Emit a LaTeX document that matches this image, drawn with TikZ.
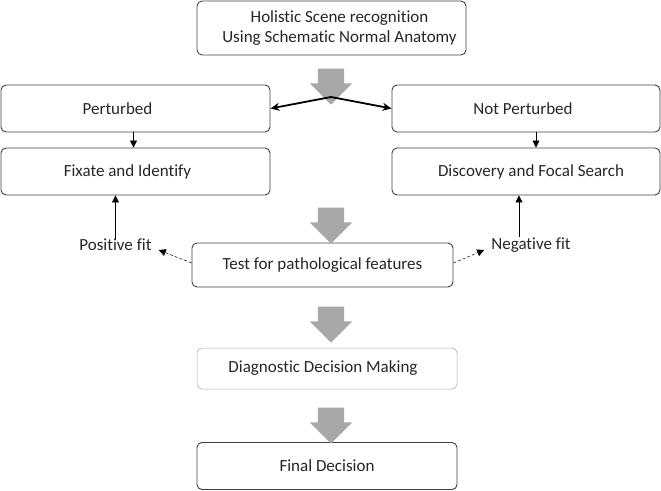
\documentclass[tikz,border=0pt]{standalone}
\usepackage{fontspec}
\setmainfont{Carlito}[Ligatures=NoCommon]
\usetikzlibrary{shapes.arrows,arrows.meta}

\definecolor{boxline}{RGB}{64,64,64}
\definecolor{arrgray}{RGB}{168,168,168}
\definecolor{txt}{RGB}{38,38,38}

\tikzset{
  box/.style={draw=boxline,rounded corners=5pt,line width=0.9pt,text=txt,
    font=\fontsize{17}{20}\selectfont,inner sep=0pt,align=center},
  bigarr/.style={single arrow,fill=arrgray,draw=none,rotate=-90,
    inner xsep=0pt,inner ysep=13pt,single arrow head extend=8pt,
    minimum height=36pt}
}

\begin{document}
\begin{tikzpicture}[x=1pt,y=-1pt]
      \useasboundingbox (0,0) rectangle (661,490);

      \begin{scope}[every node/.style={box}]
        \node[minimum width=269pt,minimum height=54pt] (scene) at (331.5,28)
          {\hspace*{16pt}Holistic Scene recognition\\\hspace*{16pt}Using Schematic Normal Anatomy};
        \node[minimum width=269pt,minimum height=47pt] (pert)  at (135.5,108.5) {\hspace*{-36pt}Perturbed};
        \node[minimum width=269pt,minimum height=47pt] (fix)   at (135.5,171.5) {\hspace*{-16pt}Fixate and Identify};
        \node[minimum width=268pt,minimum height=47pt] (notp)  at (526,108.5)   {\hspace*{-6pt}Not Perturbed};
        \node[minimum width=268pt,minimum height=47pt] (disc)  at (526,171.5)   {\hspace*{10pt}Discovery and Focal Search};
        \node[minimum width=261pt,minimum height=44pt] (test)  at (322.5,265)   {Test for pathological features};
        \node[minimum width=260pt,minimum height=41pt,draw=black!35,line width=0.5pt] (diag) at (327,368.5)
          {\hspace*{-8pt}Diagnostic Decision Making};
        \node[minimum width=260pt,minimum height=47pt] (final) at (327,466) {Final Decision};
      \end{scope}

      \begin{scope}[every node/.style={text=txt,font=\fontsize{17}{20}\selectfont,inner sep=2pt}]
        \node (pos) at (115.5,245) {Positive fit};
        \node (neg) at (531,245)   {Negative fit};
      \end{scope}

      \begin{scope}[every node/.style={bigarr}]
        \node (a1) at (331,80)  {};
        \node (a2) at (331,219) {};
        \node (a3) at (331,318) {};
        \node (a4) at (331,419) {};
      \end{scope}

      \coordinate (fork) at (331,97);

      \begin{scope}[every edge/.style={draw,line width=1.8pt,-{Stealth[length=9pt,width=8pt]}}]
        \path (fork) edge (pert.east);
        \path (fork) edge (notp.west);
      \end{scope}

      \begin{scope}[every edge/.style={draw,line width=0.6pt,-{Triangle[length=7pt,width=7pt]}}]
        \path ([xshift=-2pt]pert.south) edge ([xshift=-2pt]fix.north);
        \path ([xshift=10pt]notp.south) edge ([xshift=10pt]disc.north);
        \path ([yshift=-2pt]pos.north) edge (pos.north |- fix.south);
        \path ([xshift=-12pt,yshift=-2pt]neg.north) edge ([xshift=-12pt]neg.north |- disc.south);
      \end{scope}

      \begin{scope}[every edge/.style={draw,line width=0.5pt,densely dashed,-{Triangle[length=7pt,width=7pt]}}]
        \path ([yshift=2pt]test.west) edge ([xshift=5pt,yshift=-5pt]pos.east);
        \path ([yshift=2pt]test.east) edge ([xshift=-5pt,yshift=-5pt]neg.west);
      \end{scope}

    \end{tikzpicture}
\end{document}
